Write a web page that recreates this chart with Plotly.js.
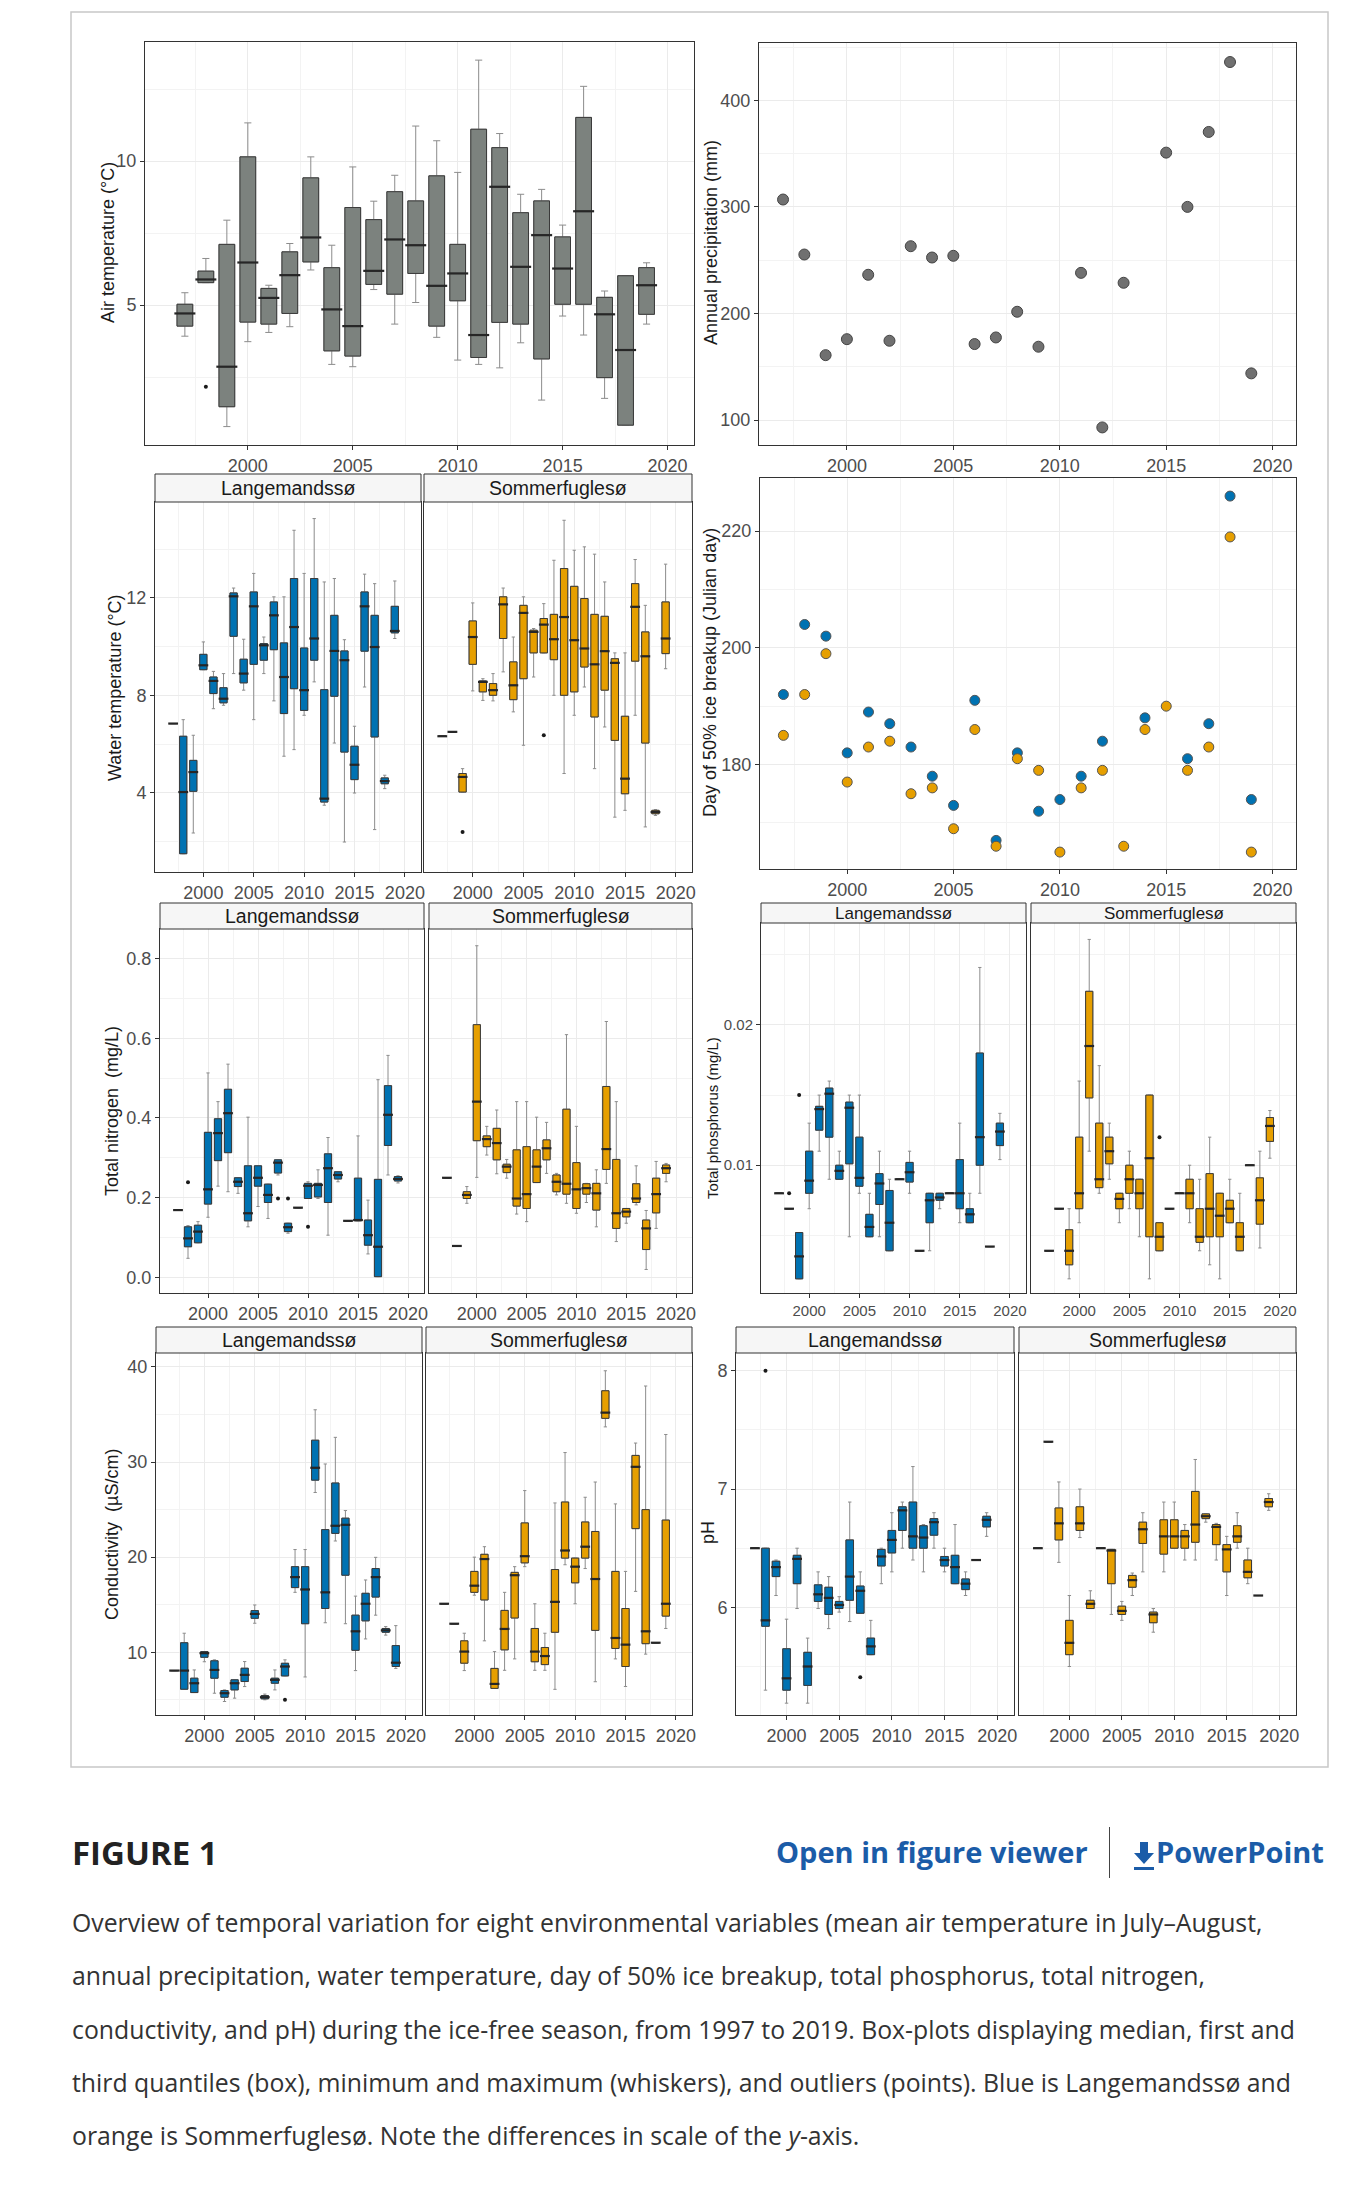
<!DOCTYPE html>
<html><head><meta charset="utf-8">
<script src="https://cdn.plot.ly/plotly-3.0.1.min.js"></script>
<style>
body{margin:0;background:#fff;width:1370px;height:2188px;position:relative;overflow:hidden;}
#plot{position:absolute;left:0;top:0;width:1370px;height:1780px;}
.cap{position:absolute;font-family:'Open Sans',sans-serif;white-space:nowrap;line-height:1;}
.blue{color:#1b5ca8;font-weight:700;font-size:29px;}
.txt{font-size:24.8px;color:#333;left:72px;}
</style></head><body>
<div id="plot"></div>
<div class="cap" style="left:72px;top:1836px;font-size:33px;font-weight:700;color:#222;">FIGURE 1</div>
<div class="cap blue" style="left:776px;top:1837px;">Open in figure viewer</div>
<div style="position:absolute;left:1109px;top:1827px;width:1px;height:51px;background:#444;"></div>
<svg style="position:absolute;left:1133px;top:1842px;" width="22" height="28" viewBox="0 0 22 28"><path d="M7 0h8v11h6L11 22 1 11h6z" fill="#1b5ca8"/><rect x="1" y="25" width="20" height="3" fill="#1b5ca8"/></svg>
<div class="cap blue" style="left:1156px;top:1837px;">PowerPoint</div>
<div class="cap txt" style="top:1910px;">Overview of temporal variation for eight environmental variables (mean air temperature in July–August,</div>
<div class="cap txt" style="top:1963px;">annual precipitation, water temperature, day of 50% ice breakup, total phosphorus, total nitrogen,</div>
<div class="cap txt" style="top:2017px;">conductivity, and pH) during the ice-free season, from 1997 to 2019. Box-plots displaying median, first and</div>
<div class="cap txt" style="top:2070px;">third quantiles (box), minimum and maximum (whiskers), and outliers (points). Blue is Langemandssø and</div>
<div class="cap txt" style="top:2123px;">orange is Sommerfuglesø. Note the differences in scale of the <i>y</i>-axis.</div>
<script>
// ---------------- DATA ----------------
const years = [1997,1998,1999,2000,2001,2002,2003,2004,2005,2006,2007,2008,2009,2010,2011,2012,2013,2014,2015,2016,2017,2018,2019];
const xTickYears = [2000,2005,2010,2015,2020];
const lakes = ["Langemandssø","Sommerfuglesø"];

// Air temperature (°C)
const airLo  = [3.92,5.78,0.78,3.73,4.05,4.25,6.22,2.94,2.86,5.54,4.34,5.09,3.88,3.09,2.94,2.82,3.69,1.70,4.62,3.96,1.76,0.83,4.34];
const airQ1  = [4.27,5.78,1.47,4.41,4.34,4.71,6.50,3.41,3.23,5.72,5.38,6.10,4.27,5.15,3.18,4.40,4.34,3.13,5.03,5.03,2.48,0.83,4.68];
const airMed = [4.71,5.89,2.86,6.48,5.25,6.04,7.35,4.85,4.27,6.19,7.28,7.08,5.67,6.10,3.96,9.11,6.33,7.43,6.27,8.26,4.68,3.44,5.69];
const airQ3  = [5.03,6.18,7.11,10.15,5.58,6.85,9.42,6.30,8.39,7.97,8.94,8.62,9.49,7.11,11.11,10.47,8.21,8.62,7.37,11.52,5.27,6.02,6.30];
const airHi  = [5.43,6.62,7.95,11.33,5.69,7.14,10.15,7.08,9.80,8.61,9.51,11.22,10.71,9.61,13.51,10.96,8.85,9.02,7.78,12.60,5.49,6.02,6.47];
const airOutX = [1998], airOutY = [2.16];

// Annual precipitation (mm)
const precip = [306.9,255.3,160.9,175.9,236.3,174.4,263.1,252.5,254.1,171.3,177.5,201.6,168.8,null,238.1,93.1,228.8,null,350.9,300.0,370.3,435.9,143.8];

// Water temperature (°C)
const wtLLo  = [6.84,1.5,2.35,9.05,7.45,7.59,8.89,8.21,7.0,8.89,7.77,5.50,5.77,7.18,8.55,3.49,6.04,1.98,3.99,8.34,2.49,4.17,10.33];
const wtLQ1  = [6.84,1.5,4.06,9.05,8.07,7.69,10.42,8.51,9.27,9.44,9.87,7.25,8.27,7.38,9.44,3.62,7.96,5.67,4.54,9.81,6.29,4.37,10.56];
const wtLMed = [6.84,4.03,4.85,9.23,8.59,7.86,12.06,8.89,11.65,10.05,11.28,8.75,10.80,8.21,10.33,3.76,9.82,9.44,5.15,11.65,9.98,4.48,10.64];
const wtLQ3  = [6.84,6.32,5.33,9.68,8.75,8.31,12.2,9.48,12.24,10.12,11.83,10.15,12.79,9.94,12.79,8.23,11.28,9.82,5.91,12.24,11.28,4.61,11.65];
const wtLHi  = [6.84,7.0,6.36,10.19,8.98,8.89,12.40,10.3,13.0,10.39,12.04,12.04,14.77,13.0,15.25,12.65,12.79,10.28,6.73,12.97,12.58,4.72,12.69];
const wtSLo  = [6.32,6.50,4.03,8.18,7.79,7.77,8.96,7.32,5.95,8.75,9.74,8.0,4.79,7.18,8.34,4.99,6.70,3.0,3.28,7.18,2.60,3.07,9.09];
const wtSQ1  = [6.32,6.50,4.03,9.27,8.14,8.0,10.33,7.82,8.68,9.74,9.74,9.46,8.0,8.14,9.16,7.11,8.21,6.15,3.96,9.40,6.04,3.14,9.71];
const wtSMed = [6.32,6.50,4.65,10.39,8.55,8.21,11.73,8.41,11.38,10.60,10.90,10.30,11.21,10.26,9.92,9.27,9.81,9.33,4.58,11.63,9.60,3.21,10.33];
const wtSQ3  = [6.32,6.50,4.79,11.05,8.59,8.48,12.04,9.37,11.69,10.67,11.15,11.32,13.20,12.47,11.97,11.32,11.24,9.50,7.14,12.58,10.60,3.28,11.83];
const wtSHi  = [6.32,6.50,4.99,11.79,8.68,8.89,12.40,10.39,12.04,10.74,11.76,13.54,15.18,13.95,14.09,13.79,12.65,9.74,9.74,13.57,11.69,3.31,13.38];
const wtSOutX = [1999,2007], wtSOutY = [2.39,6.36];

// Day of 50% ice breakup (Julian day)
const iceL = [192,204,202,182,189,187,183,178,173,191,167,182,172,174,178,184,null,188,null,181,187,226,174];
const iceS = [185,192,199,177,183,184,175,176,169,186,166,181,179,165,176,179,166,186,190,179,183,219,165];

// Total nitrogen (mg/L)
const tnLLo  = [0.169,0.048,0.087,0.151,0.229,0.215,0.211,0.127,0.178,0.148,0.257,0.111,0.175,0.198,0.198,0.106,0.240,0.142,0.142,0.059,0.002,0.257,0.237];
const tnLQ1  = [0.169,0.077,0.087,0.184,0.293,0.313,0.228,0.142,0.229,0.188,0.262,0.115,0.175,0.198,0.202,0.188,0.247,0.142,0.142,0.081,0.002,0.331,0.242];
const tnLMed = [0.169,0.098,0.115,0.221,0.362,0.412,0.240,0.161,0.250,0.207,0.288,0.126,0.175,0.230,0.232,0.274,0.257,0.142,0.144,0.106,0.077,0.408,0.247];
const tnLQ3  = [0.169,0.127,0.131,0.364,0.398,0.472,0.250,0.280,0.280,0.234,0.295,0.136,0.175,0.236,0.236,0.310,0.265,0.142,0.249,0.144,0.246,0.481,0.253];
const tnLHi  = [0.169,0.130,0.140,0.513,0.441,0.535,0.250,0.402,0.280,0.234,0.295,0.136,0.175,0.240,0.270,0.351,0.265,0.142,0.355,0.194,0.496,0.557,0.255];
const tnLOutX = [1998,2007,2008,2010], tnLOutY = [0.239,0.198,0.198,0.127];
const tnSLo  = [0.250,0.079,0.186,0.251,0.307,0.260,0.249,0.159,0.140,0.238,0.261,0.207,0.186,0.161,0.188,0.127,0.236,0.090,0.136,0.182,0.020,0.123,0.240];
const tnSQ1  = [0.250,0.079,0.198,0.343,0.328,0.295,0.263,0.179,0.173,0.238,0.295,0.215,0.209,0.173,0.209,0.169,0.271,0.123,0.152,0.188,0.070,0.162,0.261];
const tnSMed = [0.250,0.079,0.207,0.441,0.347,0.337,0.278,0.198,0.209,0.278,0.324,0.240,0.235,0.221,0.224,0.211,0.322,0.161,0.165,0.198,0.123,0.209,0.274];
const tnSQ3  = [0.250,0.079,0.215,0.634,0.355,0.374,0.284,0.320,0.328,0.320,0.345,0.257,0.422,0.288,0.235,0.236,0.479,0.296,0.173,0.235,0.144,0.249,0.282];
const tnSHi  = [0.250,0.079,0.228,0.832,0.379,0.420,0.296,0.441,0.441,0.402,0.389,0.261,0.609,0.379,0.236,0.270,0.642,0.441,0.173,0.280,0.168,0.291,0.286];

// Total phosphorus (mg/L)
const tpLLo  = [0.0080,0.0069,0.0019,0.0069,0.0110,0.0090,0.0090,0.0049,0.0080,0.0049,0.0049,0.0039,0.0090,0.0080,0.0039,0.0039,0.0069,0.0080,0.0059,0.0059,0.0080,0.0042,0.0104];
const tpLQ1  = [0.0080,0.0069,0.0019,0.0080,0.0125,0.0120,0.0090,0.0101,0.0085,0.0049,0.0072,0.0039,0.0090,0.0088,0.0039,0.0059,0.0075,0.0080,0.0069,0.0059,0.0100,0.0042,0.0114];
const tpLMed = [0.0080,0.0069,0.0035,0.0089,0.0140,0.0151,0.0096,0.0141,0.0091,0.0056,0.0087,0.0059,0.0090,0.0095,0.0039,0.0075,0.0077,0.0080,0.0080,0.0065,0.0120,0.0042,0.0124];
const tpLQ3  = [0.0080,0.0069,0.0052,0.0110,0.0142,0.0155,0.0100,0.0145,0.0120,0.0065,0.0094,0.0082,0.0090,0.0102,0.0039,0.0080,0.0080,0.0080,0.0104,0.0069,0.0180,0.0042,0.0130];
const tpLHi  = [0.0080,0.0069,0.0052,0.0130,0.0150,0.0160,0.0110,0.0150,0.0150,0.0080,0.0110,0.0090,0.0090,0.0110,0.0039,0.0080,0.0080,0.0080,0.0130,0.0080,0.0241,0.0042,0.0137];
const tpLOutX = [1998,1999], tpLOutY = [0.0080,0.0150];
const tpSLo  = [0.0039,0.0069,0.0019,0.0059,0.0110,0.0080,0.0090,0.0059,0.0069,0.0049,0.0019,0.0039,0.0069,0.0080,0.0059,0.0039,0.0029,0.0019,0.0059,0.0039,0.0100,0.0041,0.0105];
const tpSQ1  = [0.0039,0.0069,0.0029,0.0069,0.0148,0.0084,0.0101,0.0069,0.0080,0.0069,0.0049,0.0039,0.0069,0.0080,0.0069,0.0045,0.0049,0.0049,0.0059,0.0039,0.0100,0.0058,0.0117];
const tpSMed = [0.0039,0.0069,0.0039,0.0080,0.0185,0.0090,0.0110,0.0076,0.0090,0.0080,0.0105,0.0049,0.0069,0.0080,0.0080,0.0049,0.0069,0.0064,0.0069,0.0049,0.0100,0.0075,0.0128];
const tpSQ3  = [0.0039,0.0069,0.0054,0.0120,0.0224,0.0130,0.0120,0.0080,0.0100,0.0090,0.0150,0.0059,0.0069,0.0080,0.0090,0.0069,0.0094,0.0080,0.0075,0.0059,0.0100,0.0091,0.0134];
const tpSHi  = [0.0039,0.0069,0.0069,0.0160,0.0261,0.0171,0.0130,0.0080,0.0110,0.0090,0.0150,0.0059,0.0069,0.0080,0.0100,0.0090,0.0120,0.0080,0.0090,0.0080,0.0100,0.0110,0.0139];
const tpSOutX = [2008], tpSOutY = [0.0120];

// Conductivity (µS/cm)
const ecLLo  = [8.07,6.11,5.76,9.0,5.69,4.82,5.17,6.39,13.05,5.0,6.04,7.51,16.3,7.4,26.8,13.1,21.7,13.0,8.07,11.4,13.9,11.8,8.3];
const ecLQ1  = [8.07,6.11,5.76,9.47,7.27,5.27,6.04,6.92,13.57,5.1,6.74,7.51,16.8,13.0,28.1,14.6,22.5,18.1,10.2,13.3,15.8,12.1,8.5];
const ecLMed = [8.07,8.07,6.74,9.9,8.14,5.69,6.74,7.62,14.03,5.27,7.1,8.5,17.9,16.6,29.4,16.3,23.3,23.4,12.2,15.1,17.9,12.3,8.9];
const ecLQ3  = [8.07,11.0,7.27,10.07,9.1,5.97,7.1,8.32,14.38,5.45,7.27,8.84,19.0,19.0,32.3,22.9,27.8,24.1,13.9,16.2,18.8,12.5,10.7];
const ecLHi  = [8.07,12.0,8.14,10.07,9.2,6.04,7.1,9.02,14.97,5.6,8.14,9.2,20.8,20.8,35.5,29.8,32.6,24.9,15.9,17.6,19.98,12.7,12.8];
const ecLOutX = [2008], ecLOutY = [5.0];
const ecSLo  = [15.1,13.0,8.07,16.0,11.2,6.2,8.1,9.3,19.0,8.1,8.1,6.1,19.2,15.1,18.8,6.9,33.7,9.3,6.4,16.4,9.8,11.0,12.5];
const ecSQ1  = [15.1,13.0,8.85,16.3,15.5,6.2,10.25,13.6,19.4,9.0,8.7,12.1,19.9,17.3,19.9,12.3,34.6,10.4,8.5,23.0,10.9,11.0,13.8];
const ecSMed = [15.1,13.0,10.07,17.0,19.8,6.67,12.45,18.1,20.1,10.07,9.6,15.3,20.7,19.0,21.1,17.7,35.2,11.5,10.8,29.5,12.2,11.0,15.1];
const ecSQ3  = [15.1,13.0,11.2,18.5,20.3,8.3,14.4,18.4,23.6,12.5,10.5,18.7,25.8,19.9,23.7,22.7,37.5,18.5,14.6,30.7,25.0,11.0,23.9];
const ecSHi  = [15.1,13.0,12.0,20.0,21.1,10.07,16.3,19.0,27.0,15.1,12.0,25.7,31.0,19.9,26.3,27.9,39.6,25.6,18.5,32.0,38.0,11.0,32.9];

// pH
const phLLo  = [6.50,5.30,6.10,5.19,5.99,5.19,5.99,5.82,5.96,5.88,5.95,5.60,6.20,6.30,6.50,6.40,6.30,6.50,6.30,6.20,6.10,6.40,6.60];
const phLQ1  = [6.50,5.84,6.26,5.30,6.20,5.34,6.05,5.94,5.99,6.06,5.95,5.60,6.35,6.46,6.65,6.50,6.50,6.61,6.35,6.20,6.15,6.40,6.68];
const phLMed = [6.50,5.89,6.34,5.40,6.41,5.50,6.11,6.08,6.02,6.26,6.14,5.67,6.43,6.57,6.82,6.60,6.59,6.72,6.40,6.34,6.20,6.40,6.74];
const phLQ3  = [6.50,6.50,6.39,5.65,6.44,5.62,6.19,6.17,6.05,6.57,6.18,5.74,6.49,6.65,6.85,6.89,6.69,6.75,6.43,6.44,6.24,6.40,6.77];
const phLHi  = [6.50,6.50,6.40,5.90,6.50,5.74,6.30,6.26,6.09,6.89,6.30,5.89,6.50,6.80,6.89,7.19,6.70,6.80,6.50,6.70,6.30,6.40,6.80];
const phLOutX = [1998,2007], phLOutY = [8.0,5.41];
const phSLo  = [6.50,7.40,6.38,5.50,6.59,5.99,6.50,5.94,5.89,6.10,6.30,5.79,6.30,6.50,6.40,6.40,6.72,6.40,6.10,6.50,6.20,6.10,6.82];
const phSQ1  = [6.50,7.40,6.57,5.60,6.65,5.99,6.50,6.20,5.94,6.17,6.54,5.87,6.45,6.50,6.50,6.55,6.75,6.53,6.30,6.55,6.25,6.10,6.85];
const phSMed = [6.50,7.40,6.71,5.70,6.71,6.03,6.50,6.48,5.97,6.23,6.66,5.94,6.60,6.60,6.60,6.70,6.77,6.68,6.49,6.60,6.30,6.10,6.89];
const phSQ3  = [6.50,7.40,6.84,5.89,6.85,6.06,6.50,6.49,6.01,6.27,6.72,5.96,6.74,6.74,6.65,6.98,6.79,6.70,6.53,6.69,6.40,6.10,6.92];
const phSHi  = [6.50,7.40,7.06,6.10,7.00,6.14,6.50,6.49,6.05,6.29,6.80,5.99,6.89,6.89,6.70,7.25,6.79,6.71,6.60,6.80,6.50,6.10,6.96];

// ---------------- STYLE / LAYOUT ----------------
const W = 1370, H = 1780;
const BLUE = '#0072B2', ORANGE = '#E69F00', GREY = '#7c827e';
const FONT = 'Liberation Sans, Arial, sans-serif';
const px = v => v / W, py = v => 1 - v / H;

// panel pixel boxes: [left, right, top, bottom]
const P = {
  1: [145, 694, 42, 445], 2: [759, 1296, 43, 445],
  3: [155, 421, 502, 872], 4: [424, 692, 502, 872], 5: [760, 1296, 478, 869],
  6: [160, 424, 929, 1293], 7: [429, 692, 929, 1293],
  8: [761, 1026, 923, 1293], 9: [1031, 1296, 923, 1293],
  10: [156, 422, 1353, 1715], 11: [426, 692, 1353, 1715],
  12: [736, 1014, 1353, 1715], 13: [1019, 1296, 1353, 1715]
};
const strips = [[3, 474], [4, 474], [6, 903], [7, 903], [8, 903], [9, 903], [10, 1327], [11, 1327], [12, 1327], [13, 1327]];

const layout = {
  width: W, height: H, margin: {l: 0, r: 0, t: 0, b: 0},
  paper_bgcolor: '#fff', plot_bgcolor: '#fff', showlegend: false, boxmode: 'overlay',
  font: {family: FONT, color: '#4d4d4d', size: 18},
  shapes: [], annotations: []
};

function axisBase(dom, small) {
  return {
    domain: dom, showline: true, mirror: true, linecolor: '#333', linewidth: 1,
    ticks: 'outside', ticklen: 4, tickcolor: '#333', tickwidth: 1,
    showgrid: true, gridcolor: '#ebebeb', gridwidth: 1, zeroline: false,
    tickfont: {family: FONT, size: small ? 15 : 18, color: '#4d4d4d'},
    fixedrange: true
  };
}
function setAxes(i, xr, yr, ydtick, ytick0, yminorTick0, yminorDtick, yfmt, showY, small) {
  const b = P[i];
  const xa = axisBase([px(b[0]), px(b[1])], small);
  Object.assign(xa, {range: xr, tickmode: 'array', tickvals: xTickYears, ticktext: xTickYears.map(String),
    anchor: 'y' + i, minor: {tickmode: 'linear', tick0: 1997.5, dtick: 5, showgrid: true, gridcolor: '#f3f3f3', ticks: ''}});
  const ya = axisBase([py(b[3]), py(b[2])], small);
  Object.assign(ya, {range: yr, tickmode: 'linear', tick0: ytick0, dtick: ydtick, anchor: 'x' + i,
    minor: {tickmode: 'linear', tick0: yminorTick0, dtick: yminorDtick, showgrid: true, gridcolor: '#f3f3f3', ticks: ''}});
  if (yfmt) ya.tickformat = yfmt;
  if (!showY) { ya.showticklabels = false; ya.ticks = ''; }
  layout['xaxis' + (i === 1 ? '' : i)] = xa;
  layout['yaxis' + (i === 1 ? '' : i)] = ya;
}
const FX = [1995.2, 2021.6];
setAxes(1, [1995.1, 2021.26], [0.14, 14.14], 5, 0, 2.5, 5, null, true);
setAxes(2, [1995.87, 2021.1], [76.6, 453.75], 100, 0, 50, 100, null, true);
setAxes(3, FX, [0.75, 15.93], 4, 0, 2, 4, null, true);
setAxes(4, FX, [0.75, 15.93], 4, 0, 2, 4, null, false);
setAxes(5, [1995.9, 2021.1], [162.1, 229.1], 20, 180, 170, 20, null, true);
setAxes(6, FX, [-0.039, 0.874], 0.2, 0, 0.1, 0.2, '.1f', true);
setAxes(7, FX, [-0.039, 0.874], 0.2, 0, 0.1, 0.2, '.1f', false);
setAxes(8, FX, [0.00089, 0.02727], 0.01, 0, 0.005, 0.01, '.2f', true, true);
setAxes(9, FX, [0.00089, 0.02727], 0.01, 0, 0.005, 0.01, '.2f', false, true);
setAxes(10, FX, [3.4, 41.47], 10, 0, 5, 10, null, true);
setAxes(11, FX, [3.4, 41.47], 10, 0, 5, 10, null, false);
setAxes(12, FX, [5.09, 8.15], 1, 0, 5.5, 1, null, true);
setAxes(13, FX, [5.09, 8.15], 1, 0, 5.5, 1, null, false);

// outer frame
layout.shapes.push({type: 'rect', xref: 'paper', yref: 'paper', x0: px(71), x1: px(1328), y0: py(1767), y1: py(12),
  line: {color: '#c8c8c8', width: 1.5}, fillcolor: 'rgba(0,0,0,0)', layer: 'below'});
// facet strips
strips.forEach(([i, top], k) => {
  const b = P[i];
  layout.shapes.push({type: 'rect', xref: 'paper', yref: 'paper', x0: px(b[0]), x1: px(b[1]), y0: py(b[2]), y1: py(top),
    line: {color: '#333', width: 1}, fillcolor: '#f6f6f6'});
  const small = (i === 8 || i === 9);
  layout.annotations.push({xref: 'paper', yref: 'paper', x: px((b[0] + b[1]) / 2), y: py((top + b[2]) / 2),
    text: lakes[k % 2], showarrow: false, xanchor: 'center', yanchor: 'middle',
    font: {family: FONT, size: small ? 17 : 19.5, color: '#1a1a1a'}});
});
// y-axis titles
const yTitles = [
  ['Air temperature (°C)', 108, 243, 18], ['Annual precipitation (mm)', 711, 243, 18],
  ['Water temperature (°C)', 115, 687, 18], ['Day of 50% ice breakup (Julian day)', 710, 673, 18],
  ['Total nitrogen  (mg/L)', 112, 1111, 18], ['Total phosphorus (mg/L)', 712, 1118, 15],
  ['Conductivity  (µS/cm)', 112, 1535, 18], ['pH', 708, 1533, 18]
];
yTitles.forEach(([t, x, y, s]) => layout.annotations.push({xref: 'paper', yref: 'paper', x: px(x), y: py(y),
  text: t, textangle: -90, showarrow: false, xanchor: 'center', yanchor: 'middle',
  font: {family: FONT, size: s, color: '#1a1a1a'}}));

// ---------------- TRACES ----------------
const traces = [];
function boxes(i, lo, q1, med, q3, hi, fill, width, medPx) {
  const ax = i === 1 ? '' : String(i);
  // whiskers (light grey) drawn with the full range
  traces.push({type: 'box', x: years, q1: q1, median: med, q3: q3, lowerfence: lo, upperfence: hi,
    xaxis: 'x' + ax, yaxis: 'y' + ax, width: width, whiskerwidth: 0.45, boxpoints: false,
    fillcolor: fill, line: {color: '#8c8c8c', width: 1}, hoverinfo: 'skip'});
  // box body with dark outline
  traces.push({type: 'box', x: years, q1: q1, median: med, q3: q3, lowerfence: q1, upperfence: q3,
    xaxis: 'x' + ax, yaxis: 'y' + ax, width: width, whiskerwidth: 0, boxpoints: false,
    fillcolor: fill, line: {color: '#3a3a3a', width: 1}, hoverinfo: 'skip'});
  traces.push({type: 'scatter', mode: 'markers', x: years, y: med, xaxis: 'x' + ax, yaxis: 'y' + ax,
    marker: {symbol: 'line-ew', size: medPx, line: {color: '#262626', width: 2.2}}, hoverinfo: 'skip'});
}
function outliers(i, xs, ys) {
  const ax = i === 1 ? '' : String(i);
  traces.push({type: 'scatter', mode: 'markers', x: xs, y: ys, xaxis: 'x' + ax, yaxis: 'y' + ax,
    marker: {size: 4, color: '#1a1a1a'}, hoverinfo: 'skip'});
}
boxes(1, airLo, airQ1, airMed, airQ3, airHi, GREY, 0.75, 15);
outliers(1, airOutX, airOutY);
traces.push({type: 'scatter', mode: 'markers', x: years, y: precip, xaxis: 'x2', yaxis: 'y2',
  marker: {size: 11, color: '#707070', line: {color: '#444', width: 1}}});
boxes(3, wtLLo, wtLQ1, wtLMed, wtLQ3, wtLHi, BLUE, 0.72, 7);
boxes(4, wtSLo, wtSQ1, wtSMed, wtSQ3, wtSHi, ORANGE, 0.72, 7);
outliers(4, wtSOutX, wtSOutY);
traces.push({type: 'scatter', mode: 'markers', x: years, y: iceL, xaxis: 'x5', yaxis: 'y5',
  marker: {size: 10, color: BLUE, line: {color: '#555', width: 1}}});
traces.push({type: 'scatter', mode: 'markers', x: years, y: iceS, xaxis: 'x5', yaxis: 'y5',
  marker: {size: 10, color: ORANGE, line: {color: '#555', width: 1}}});
boxes(6, tnLLo, tnLQ1, tnLMed, tnLQ3, tnLHi, BLUE, 0.72, 7);
outliers(6, tnLOutX, tnLOutY);
boxes(7, tnSLo, tnSQ1, tnSMed, tnSQ3, tnSHi, ORANGE, 0.72, 7);
boxes(8, tpLLo, tpLQ1, tpLMed, tpLQ3, tpLHi, BLUE, 0.72, 7);
outliers(8, tpLOutX, tpLOutY);
boxes(9, tpSLo, tpSQ1, tpSMed, tpSQ3, tpSHi, ORANGE, 0.72, 7);
outliers(9, tpSOutX, tpSOutY);
boxes(10, ecLLo, ecLQ1, ecLMed, ecLQ3, ecLHi, BLUE, 0.72, 7);
outliers(10, ecLOutX, ecLOutY);
boxes(11, ecSLo, ecSQ1, ecSMed, ecSQ3, ecSHi, ORANGE, 0.72, 7);
boxes(12, phLLo, phLQ1, phLMed, phLQ3, phLHi, BLUE, 0.72, 7);
outliers(12, phLOutX, phLOutY);
boxes(13, phSLo, phSQ1, phSMed, phSQ3, phSHi, ORANGE, 0.72, 7);

Plotly.newPlot('plot', traces, layout, {staticPlot: true, displayModeBar: false});
</script>
</body></html>
